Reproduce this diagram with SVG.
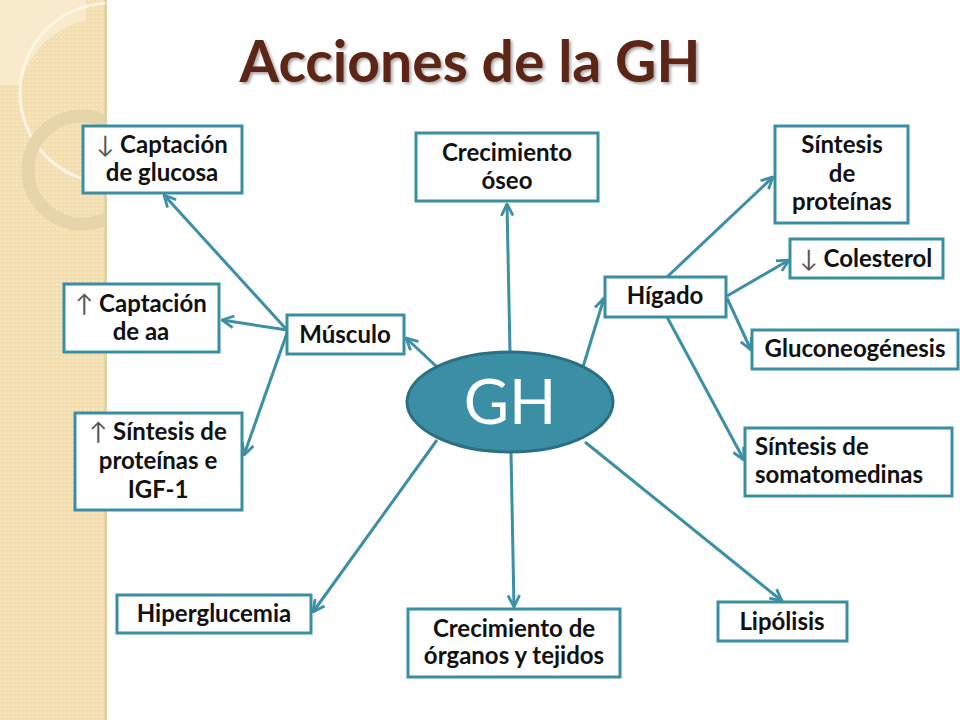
<svg xmlns="http://www.w3.org/2000/svg" width="960" height="720" viewBox="0 0 960 720">
<defs>
<style>
.box{fill:#ffffff;stroke:#3a8ea3;stroke-width:3}
.t{font-family:Lato,"Open Sans","DejaVu Sans",sans-serif;font-weight:bold;font-size:24px;fill:#111;text-anchor:middle}
.l{text-anchor:start}
.ar{font-weight:normal;fill:#555}
.c{fill:none;stroke:#3d8fa6;stroke-width:3;marker-end:url(#ah)}
</style>
<marker id="ah" viewBox="0 0 12 12" refX="11" refY="6" markerWidth="14" markerHeight="14" markerUnits="userSpaceOnUse" orient="auto">
<path d="M1,1 L11,6 L1,11" fill="none" stroke="#3d8fa6" stroke-width="2.4" stroke-linejoin="miter"/>
</marker>
<filter id="sh" x="-5%" y="-20%" width="110%" height="140%">
<feDropShadow dx="2" dy="2" stdDeviation="1.5" flood-color="#000" flood-opacity="0.35"/>
</filter>
<pattern id="dots" width="4" height="4" patternUnits="userSpaceOnUse">
<rect width="4" height="4" fill="#f3deb0"/>
<rect width="2" height="2" fill="#f6e6c2"/>
</pattern>
<clipPath id="pc"><rect x="0" y="0" width="105" height="720"/></clipPath>
</defs>
<rect width="960" height="720" fill="#ffffff"/>
<g id="panel">
<rect x="0" y="0" width="106" height="720" fill="url(#dots)"/>
<rect x="104" y="0" width="3" height="720" fill="#e4d2a6"/>
<g clip-path="url(#pc)">
<path d="M0,0 H86 L86,20 A90,90 0 0 0 20,85 L0,85 Z" fill="#f8ecd0" opacity="0.85"/>
<circle cx="110" cy="93" r="90" fill="none" stroke="#fbf5e6" stroke-width="3"/>
<circle cx="82" cy="170" r="54" fill="none" stroke="#e6d4aa" stroke-width="13"/>
</g>
</g>
<text x="470" y="82" font-family="Lato,'Open Sans',sans-serif" font-weight="bold" font-size="57" fill="#5b2517" text-anchor="middle" filter="url(#sh)">Acciones de la GH</text>
<g id="connectors">
<line class="c" x1="510" y1="352" x2="507" y2="204"/>
<line class="c" x1="437" y1="367" x2="406" y2="338"/>
<line class="c" x1="583" y1="367" x2="604" y2="298"/>
<line class="c" x1="437" y1="440" x2="313" y2="612"/>
<line class="c" x1="511" y1="452" x2="514" y2="607"/>
<line class="c" x1="585" y1="442" x2="782" y2="601"/>
<line class="c" x1="287" y1="330" x2="164" y2="195"/>
<line class="c" x1="287" y1="330" x2="222" y2="320"/>
<line class="c" x1="287" y1="333" x2="244" y2="455"/>
<line class="c" x1="667" y1="277" x2="773" y2="177"/>
<line class="c" x1="727" y1="296" x2="789" y2="260"/>
<line class="c" x1="727" y1="298" x2="751" y2="350"/>
<line class="c" x1="667" y1="317" x2="744" y2="460"/>
</g>
<g id="gh">
<ellipse cx="510" cy="402" rx="103" ry="50" fill="#3a8fa5" stroke="#2a6f82" stroke-width="3"/>
<text x="510" y="424" font-family="Lato,'Open Sans',sans-serif" font-size="62" fill="#ffffff" text-anchor="middle">GH</text>
</g>
<g id="captacion-glucosa">
<rect class="box" x="83" y="126" width="159" height="67"/>
<text class="t" x="162" y="153"><tspan class="ar">↓</tspan> Captación</text>
<text class="t" x="162" y="181">de glucosa</text>
</g>
<g id="crecimiento-oseo">
<rect class="box" x="416" y="133" width="182" height="68"/>
<text class="t" x="507" y="161">Crecimiento</text>
<text class="t" x="507" y="189">óseo</text>
</g>
<g id="sintesis-proteinas">
<rect class="box" x="775" y="126" width="133" height="97"/>
<text class="t" x="842" y="153">Síntesis</text>
<text class="t" x="842" y="182">de</text>
<text class="t" x="842" y="210">proteínas</text>
</g>
<g id="colesterol">
<rect class="box" x="790" y="239" width="153" height="39"/>
<text class="t" x="866" y="267"><tspan class="ar">↓</tspan> Colesterol</text>
</g>
<g id="higado">
<rect class="box" x="605" y="277" width="121" height="40"/>
<text class="t" x="665" y="304">Hígado</text>
</g>
<g id="gluconeogenesis">
<rect class="box" x="752" y="330" width="206" height="39"/>
<text class="t" x="855" y="357">Gluconeogénesis</text>
</g>
<g id="captacion-aa">
<rect class="box" x="64" y="284" width="155" height="68"/>
<text class="t" x="141" y="312"><tspan class="ar">↑</tspan> Captación</text>
<text class="t" x="141" y="340">de aa</text>
</g>
<g id="musculo">
<rect class="box" x="287" y="315" width="117" height="39"/>
<text class="t" x="345" y="343">Músculo</text>
</g>
<g id="sintesis-igf">
<rect class="box" x="75" y="413" width="167" height="97"/>
<text class="t" x="158" y="440"><tspan class="ar">↑</tspan> Síntesis de</text>
<text class="t" x="158" y="469">proteínas e</text>
<text class="t" x="158" y="498">IGF-1</text>
</g>
<g id="somatomedinas">
<rect class="box" x="745" y="428" width="207" height="68"/>
<text class="t l" x="755" y="455">Síntesis de</text>
<text class="t l" x="755" y="483">somatomedinas</text>
</g>
<g id="hiperglucemia">
<rect class="box" x="117" y="595" width="194" height="38"/>
<text class="t" x="214" y="622">Hiperglucemia</text>
</g>
<g id="crecimiento-organos">
<rect class="box" x="408" y="609" width="212" height="68"/>
<text class="t" x="514" y="637">Crecimiento de</text>
<text class="t" x="514" y="664">órganos y tejidos</text>
</g>
<g id="lipolisis">
<rect class="box" x="718" y="602" width="129" height="39"/>
<text class="t" x="782" y="630">Lipólisis</text>
</g>
</svg>
